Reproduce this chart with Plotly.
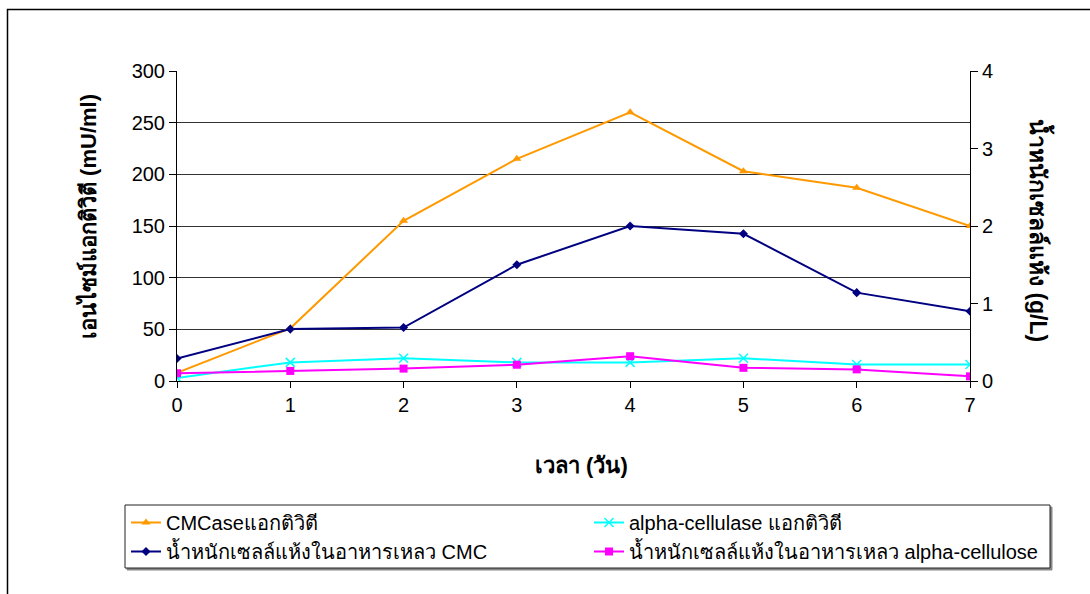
import plotly.graph_objects as go

# Fermentation time (days)
days = [0, 1, 2, 3, 4, 5, 6, 7]

# Enzyme activity, mU/ml (left axis)
cmcase_activity = [8, 51, 155, 215, 260, 203, 187, 150]
alpha_cellulase_activity = [3, 18, 22, 18, 18, 22, 16, 16]

# Dry cell weight, g/L (right axis)
dry_weight_cmc = [0.29, 0.67, 0.69, 1.50, 2.00, 1.90, 1.14, 0.90]
dry_weight_alpha = [0.10, 0.13, 0.16, 0.21, 0.32, 0.17, 0.15, 0.06]

left_ticks = [0, 50, 100, 150, 200, 250, 300]
right_ticks = [0, 1, 2, 3, 4]

names = [
    "CMCaseแอกติวิตี",
    "alpha-cellulase แอกติวิตี",
    "น้ำหนักเซลล์แห้งในอาหารเหลว CMC",
    "น้ำหนักเซลล์แห้งในอาหารเหลว alpha-cellulose",
]

FONT = "Liberation Sans, Arial, sans-serif"

fig = go.Figure()
fig.add_trace(go.Scatter(
    x=days, y=cmcase_activity, name=names[0], mode="lines+markers",
    line=dict(color="#FF9900", width=2), legend="legend",
    marker=dict(symbol="triangle-up", size=8, color="#FF9900"),
))
fig.add_trace(go.Scatter(
    x=days, y=alpha_cellulase_activity, name=names[1], mode="lines+markers",
    line=dict(color="#00FFFF", width=2), legend="legend2",
    marker=dict(symbol="x-thin", size=9, line=dict(color="#00FFFF", width=1.5)),
))
fig.add_trace(go.Scatter(
    x=days, y=dry_weight_cmc, name=names[2], mode="lines+markers", yaxis="y2",
    line=dict(color="#000080", width=2), legend="legend",
    marker=dict(symbol="diamond", size=7, color="#000080"),
))
fig.add_trace(go.Scatter(
    x=days, y=dry_weight_alpha, name=names[3], mode="lines+markers", yaxis="y2",
    line=dict(color="#FF00FF", width=2), legend="legend2",
    marker=dict(symbol="square", size=8, color="#FF00FF"),
))

L, R, T, B = 177, 120, 71, 213
W, H = 1090, 594
pw, ph = W - L - R, H - T - B


def px(x):
    return (x - L) / pw


def py(y):
    return (H - B - y) / ph


legend_common = dict(
    orientation="v", yanchor="middle", xanchor="left",
    bgcolor="rgba(0,0,0,0)", borderwidth=0,
    font=dict(family=FONT, size=20), itemwidth=30, tracegroupgap=0,
)

fig.update_layout(
    width=W, height=H,
    margin=dict(l=L, r=R, t=T, b=B, autoexpand=False),
    paper_bgcolor="white", plot_bgcolor="white",
    font=dict(family=FONT, color="black", size=20),
    showlegend=True,
    legend=dict(x=px(126), y=py(537), **legend_common),
    legend2=dict(x=px(589), y=py(537), **legend_common),
    xaxis=dict(
        range=[0, 7], tickvals=days, ticks="outside", ticklen=6,
        tickcolor="black", showline=True, linecolor="black", linewidth=1,
        showgrid=False, zeroline=False, tickfont=dict(size=20),
    ),
    yaxis=dict(
        range=[0, 300], tickvals=left_ticks, ticks="outside", ticklen=7,
        tickcolor="black", showline=True, linecolor="black", linewidth=1,
        showgrid=True, gridcolor="#333333", gridwidth=1, zeroline=False,
        tickfont=dict(size=20),
    ),
    yaxis2=dict(
        range=[0, 4], tickvals=right_ticks, overlaying="y", side="right",
        ticks="outside", ticklen=7, tickcolor="black",
        showline=True, linecolor="black", linewidth=1,
        showgrid=False, zeroline=False, tickfont=dict(size=20),
    ),
    shapes=[
        # chart frame
        dict(type="rect", xref="paper", yref="paper",
             x0=px(7.5), x1=px(1200), y0=py(700), y1=py(9.5),
             line=dict(color="black", width=1.5), layer="below"),
        # legend box shadow and border
        dict(type="rect", xref="paper", yref="paper",
             x0=px(127), x1=px(1052), y0=py(570), y1=py(507),
             line=dict(color="#888888", width=1), fillcolor="#888888",
             layer="below"),
        dict(type="rect", xref="paper", yref="paper",
             x0=px(125), x1=px(1050), y0=py(568), y1=py(505),
             line=dict(color="#222222", width=1), fillcolor="white",
             layer="below"),
    ],
    annotations=[
        dict(text="<b>เอนไซม์แอกติวิตี (mU/ml)</b>", xref="paper", yref="paper",
             x=px(88), y=py(217), textangle=-90, showarrow=False,
             font=dict(size=22), xanchor="center", yanchor="middle"),
        dict(text="<b>น้ำหนักเซลล์แห้ง (g/L)</b>", xref="paper", yref="paper",
             x=px(1040), y=py(230), textangle=90, showarrow=False,
             font=dict(size=23), xanchor="center", yanchor="middle"),
        dict(text="<b>เวลา (วัน)</b>", xref="paper", yref="paper",
             x=px(581), y=py(465), showarrow=False,
             font=dict(size=22), xanchor="center", yanchor="middle"),
    ],
)

fig.write_html("out.html")
